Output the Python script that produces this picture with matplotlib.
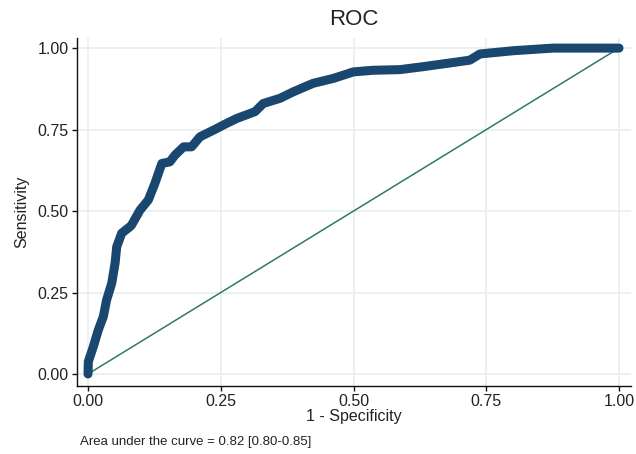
import matplotlib
matplotlib.use("Agg")
import matplotlib.pyplot as plt
import numpy as np

plt.rcParams['font.family'] = ['Liberation Sans', 'DejaVu Sans']

# ROC curve points (1 - specificity, sensitivity)
fpr = [0.0, 0.0006, 0.01, 0.0194, 0.0288, 0.035, 0.0446, 0.051, 0.054, 0.0634,
       0.079, 0.082, 0.098, 0.1136, 0.126, 0.139, 0.154, 0.164, 0.18, 0.195,
       0.211, 0.236, 0.261, 0.28, 0.3145, 0.33, 0.3616, 0.3867, 0.424, 0.462,
       0.4997, 0.537, 0.5876, 0.631, 0.6755, 0.719, 0.738, 0.801, 0.876, 1.0]
tpr = [0.0, 0.038, 0.084, 0.135, 0.176, 0.227, 0.278, 0.34, 0.39, 0.432,
       0.452, 0.457, 0.503, 0.534, 0.585, 0.646, 0.651, 0.672, 0.697, 0.697,
       0.728, 0.748, 0.769, 0.784, 0.805, 0.83, 0.846, 0.866, 0.892, 0.907,
       0.927, 0.932, 0.934, 0.943, 0.953, 0.963, 0.982, 0.992, 1.0, 1.0]
ticks = [0.0, 0.25, 0.5, 0.75, 1.0]
tick_labels = ['0.00', '0.25', '0.50', '0.75', '1.00']
auc_note = "Area under the curve = 0.82 [0.80-0.85]"

navy = '#1a476f'
teal = '#2f7a68'
grid_col = '#e9f0f2'
text_col = '#222222'

fig = plt.figure(figsize=(6.36, 4.54), dpi=100)
ax = fig.add_axes([0.1211, 0.1498, 0.8711, 0.7665])

ax.set_xlim(-0.0207, 1.0226)
ax.set_ylim(-0.0368, 1.031)

ax.set_xticks(ticks)
ax.set_yticks(ticks)
ax.set_xticklabels(tick_labels)
ax.set_yticklabels(tick_labels)
ax.grid(True, color=grid_col, lw=1.3)
ax.set_axisbelow(True)

ax.plot([0, 1], [0, 1], color=teal, lw=1.1, zorder=2)
ax.plot(fpr, tpr, color=navy, lw=6.5, solid_capstyle='round',
        solid_joinstyle='round', zorder=3)

for s in ['top', 'right']:
    ax.spines[s].set_visible(False)
for s in ['left', 'bottom']:
    ax.spines[s].set_linewidth(1.0)
    ax.spines[s].set_color('#111111')

ax.tick_params(axis='both', length=3.5, width=1.0, pad=2.5,
               labelsize=11.5, labelcolor=text_col, color='#111111')

ax.set_title('ROC', fontsize=16, color=text_col, pad=9)
ax.set_xlabel('1 - Specificity', fontsize=11.5, color=text_col, labelpad=0)
ax.set_ylabel('Sensitivity', fontsize=11.5, color=text_col, labelpad=6)

fig.text(80 / 636, 1 - 442 / 454, auc_note, fontsize=9.5, color=text_col,
         ha='left', va='center')

fig.savefig('out.png', dpi=100)
